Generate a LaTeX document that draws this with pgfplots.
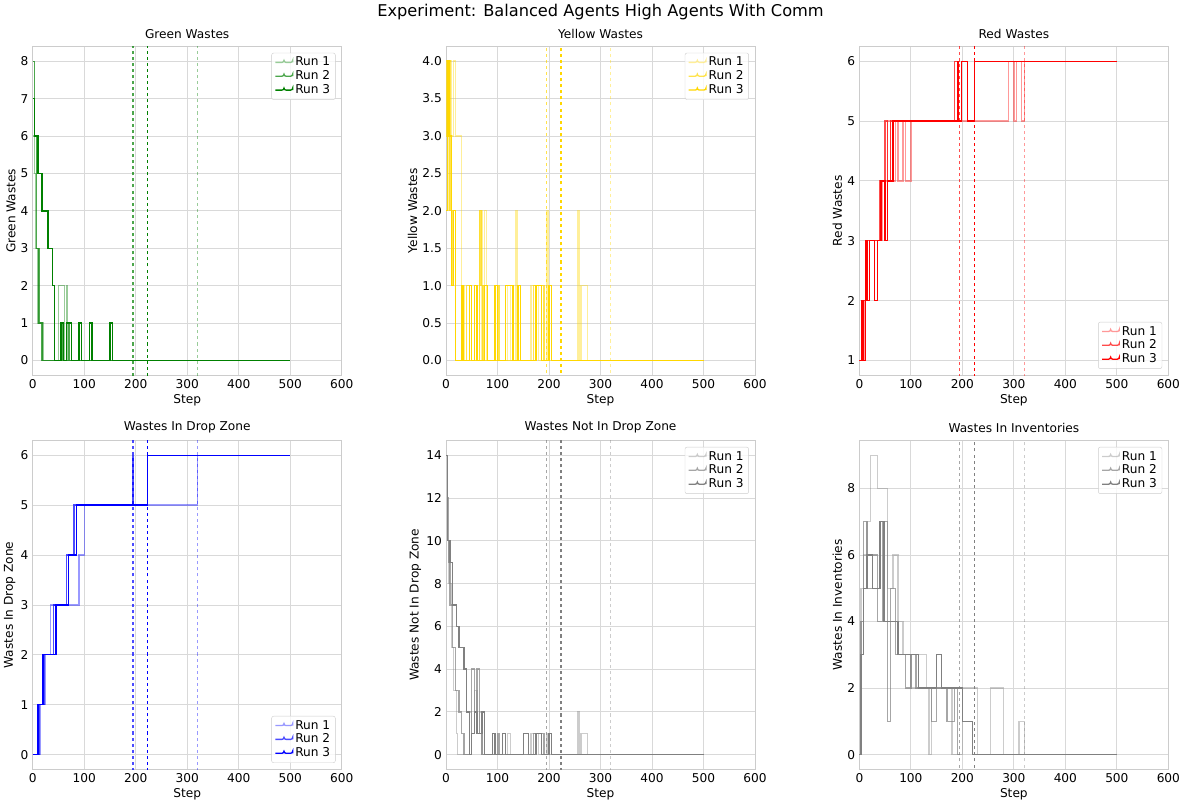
\documentclass[border=0pt]{standalone}
\usepackage{pgfplots}
\pgfplotsset{compat=1.18}
\usepgfplotslibrary{groupplots}
\usepackage{fontspec}
\setmainfont{DejaVu Sans}
\definecolor{cg}{RGB}{0,128,0}
\definecolor{cy}{RGB}{255,215,0}
\definecolor{cr}{RGB}{255,0,0}
\definecolor{cb}{RGB}{0,0,255}
\definecolor{ck}{RGB}{128,128,128}
\newcommand\vl[3]{\addplot[#1,opacity=#2,dashed,line width=1.3pt,forget plot,sharp plot] coordinates {(#3,-100)(#3,100)};}
\newcommand\vls[1]{\vl{#1}{0.4}{320}\vl{#1}{0.7}{195}\vl{#1}{1}{223}}
\begin{document}
\fontsize{12}{14}\selectfont
\begin{tikzpicture}
\begin{groupplot}[
  group style={group size=3 by 2, horizontal sep=103pt, vertical sep=64pt},
  width=305pt, height=325pt, scale only axis,
  xmin=0, xmax=600, xtick={0,100,...,600},
  grid=major, grid style={gray!30, line width=0.8pt},
  axis line style={gray!40, line width=1pt},
  major tick length=0pt,
  tick label style={font=\fontsize{12}{14}\selectfont},
  label style={font=\fontsize{12}{14}\selectfont},
  title style={font=\fontsize{12}{14}\selectfont, yshift=-3pt},
  xlabel={Step},
  xlabel style={yshift=3pt}, ylabel style={yshift=-3pt},
  /pgf/number format/assume math mode=true,
  legend cell align=left,
  legend style={font=\fontsize{12}{14}\selectfont, draw=gray!40, rounded corners=2pt, fill=white, fill opacity=0.8, text opacity=1, row sep=-1pt},
  every axis plot/.append style={line width=1.3pt, const plot},
]
\nextgroupplot[title={Green Wastes}, ylabel={Green Wastes}, ymin=-0.4, ymax=8.4, ytick={0,...,8}, legend style={at={(0.98,0.98)},anchor=north east}]
\addplot[cg,opacity=0.4] coordinates {(0,6)(3,5)(5,3)(10,1)(20,0)(50,2)(62,0)(65,2)(68,0)(320,0)};
\addplot[cg,opacity=0.7] coordinates {(0,8)(4,6)(8,3)(12,1)(18,0)(55,1)(58,0)(70,1)(72,0)(195,0)};
\addplot[cg] coordinates {(0,7)(4,6)(10,5)(18,4)(30,3)(38,2)(42,0)(55,1)(60,0)(65,1)(75,0)(90,1)(95,0)(110,1)(115,0)(150,1)(155,0)(500,0)};
\legend{Run 1,Run 2,Run 3}
\vls{cg}
\nextgroupplot[title={Yellow Wastes}, ylabel={Yellow Wastes}, ymin=-0.2, ymax=4.2, ytick={0,0.5,...,4}, yticklabel style={/pgf/number format/.cd,fixed,fixed zerofill,precision=1}, legend style={at={(0.98,0.98)},anchor=north east}]
\addplot[cy,opacity=0.4] coordinates {(0,4)(3,2)(6,4)(10,3)(14,4)(18,3)(30,1)(35,0)(65,2)(70,0)(75,2)(78,0)(120,1)(125,0)(135,2)(138,0)(165,1)(180,0)(195,2)(198,0)(255,2)(258,0)(262,1)(275,0)(320,0)};
\addplot[cy,opacity=0.7] coordinates {(0,4)(2,3)(5,4)(8,2)(12,1)(15,2)(18,0)(40,1)(45,0)(65,2)(68,1)(72,0)(100,1)(103,0)(170,1)(190,0)(195,0)};
\addplot[cy] coordinates {(0,2)(3,4)(6,3)(10,1)(15,2)(18,0)(30,1)(33,0)(45,1)(50,0)(55,1)(60,0)(75,1)(80,0)(95,1)(100,0)(115,1)(130,0)(140,1)(145,0)(175,1)(185,0)(200,1)(205,0)(500,0)};
\legend{Run 1,Run 2,Run 3}
\vls{cy}
\nextgroupplot[title={Red Wastes}, ylabel={Red Wastes}, ymin=0.75, ymax=6.25, ytick={1,...,6}, legend style={at={(0.98,0.02)},anchor=south east}]
\addplot[cr,opacity=0.4] coordinates {(0,1)(10,2)(20,3)(45,4)(55,5)(60,4)(70,5)(75,4)(85,5)(90,4)(100,5)(290,6)(300,5)(305,6)(315,5)(320,6)};
\addplot[cr,opacity=0.7] coordinates {(0,1)(8,2)(15,3)(40,4)(50,5)(55,4)(60,5)(185,6)(195,6)};
\addplot[cr] coordinates {(0,1)(5,2)(8,1)(12,3)(15,2)(20,3)(30,2)(35,3)(42,4)(50,3)(55,4)(65,5)(190,6)(193,5)(198,6)(210,5)(223,6)(500,6)};
\legend{Run 1,Run 2,Run 3}
\vls{cr}
\nextgroupplot[title={Wastes In Drop Zone}, ylabel={Wastes In Drop Zone}, ymin=-0.3, ymax=6.3, ytick={0,...,6}, legend style={at={(0.98,0.02)},anchor=south east}]
\addplot[cb,opacity=0.4] coordinates {(0,0)(15,1)(25,2)(35,3)(80,3)(90,4)(100,5)(320,6)};
\addplot[cb,opacity=0.7] coordinates {(0,0)(12,1)(22,2)(40,3)(65,4)(80,5)(195,6)};
\addplot[cb] coordinates {(0,0)(10,1)(20,2)(45,3)(70,4)(85,5)(223,6)(500,6)};
\legend{Run 1,Run 2,Run 3}
\vls{cb}
\nextgroupplot[title={Wastes Not In Drop Zone}, ylabel={Wastes Not In Drop Zone}, ymin=-0.7, ymax=14.7, ytick={0,2,...,14}, legend style={at={(0.98,0.98)},anchor=north east}]
\addplot[ck,opacity=0.4] coordinates {(0,14)(3,10)(6,8)(10,5)(15,3)(20,1)(22,0)(45,2)(50,1)(55,3)(60,1)(65,2)(70,0)(120,1)(125,0)(165,1)(180,0)(195,1)(198,0)(255,2)(258,0)(262,1)(275,0)(320,0)};
\addplot[ck,opacity=0.7] coordinates {(0,14)(3,12)(5,9)(8,7)(12,5)(18,3)(25,2)(30,1)(35,0)(50,4)(55,2)(60,4)(65,1)(70,0)(100,1)(103,0)(170,1)(190,0)(195,0)};
\addplot[ck] coordinates {(0,14)(3,10)(8,9)(12,7)(20,6)(25,5)(35,4)(40,2)(45,0)(50,1)(55,2)(60,1)(70,2)(75,0)(90,1)(95,0)(110,1)(115,0)(150,1)(160,0)(175,1)(185,0)(200,1)(205,0)(500,0)};
\legend{Run 1,Run 2,Run 3}
\vls{ck}
\nextgroupplot[title={Wastes In Inventories}, ylabel={Wastes In Inventories}, ymin=-0.45, ymax=9.45, ytick={0,2,...,8}, legend style={at={(0.98,0.98)},anchor=north east}]
\addplot[ck,opacity=0.4] coordinates {(0,0)(3,5)(8,6)(15,7)(22,9)(35,8)(55,5)(65,6)(75,4)(85,3)(100,2)(115,3)(130,2)(135,0)(140,2)(180,0)(200,2)(230,0)(255,2)(280,0)(310,1)(320,0)};
\addplot[ck,opacity=0.7] coordinates {(0,0)(3,4)(8,7)(15,5)(25,6)(35,4)(45,7)(55,1)(60,5)(70,3)(90,2)(100,3)(110,2)(140,1)(150,2)(170,1)(185,2)(190,0)(195,0)};
\addplot[ck] coordinates {(0,0)(3,3)(8,5)(15,6)(25,5)(40,7)(48,4)(60,4)(75,3)(90,3)(115,2)(150,3)(160,2)(200,1)(220,0)(500,0)};
\legend{Run 1,Run 2,Run 3}
\vls{ck}
\end{groupplot}
\node[font=\fontsize{16}{18}\selectfont, anchor=south, yshift=22pt] at (group c2r1.north) {Experiment: Balanced Agents High Agents With Comm};
\end{tikzpicture}
\end{document}
